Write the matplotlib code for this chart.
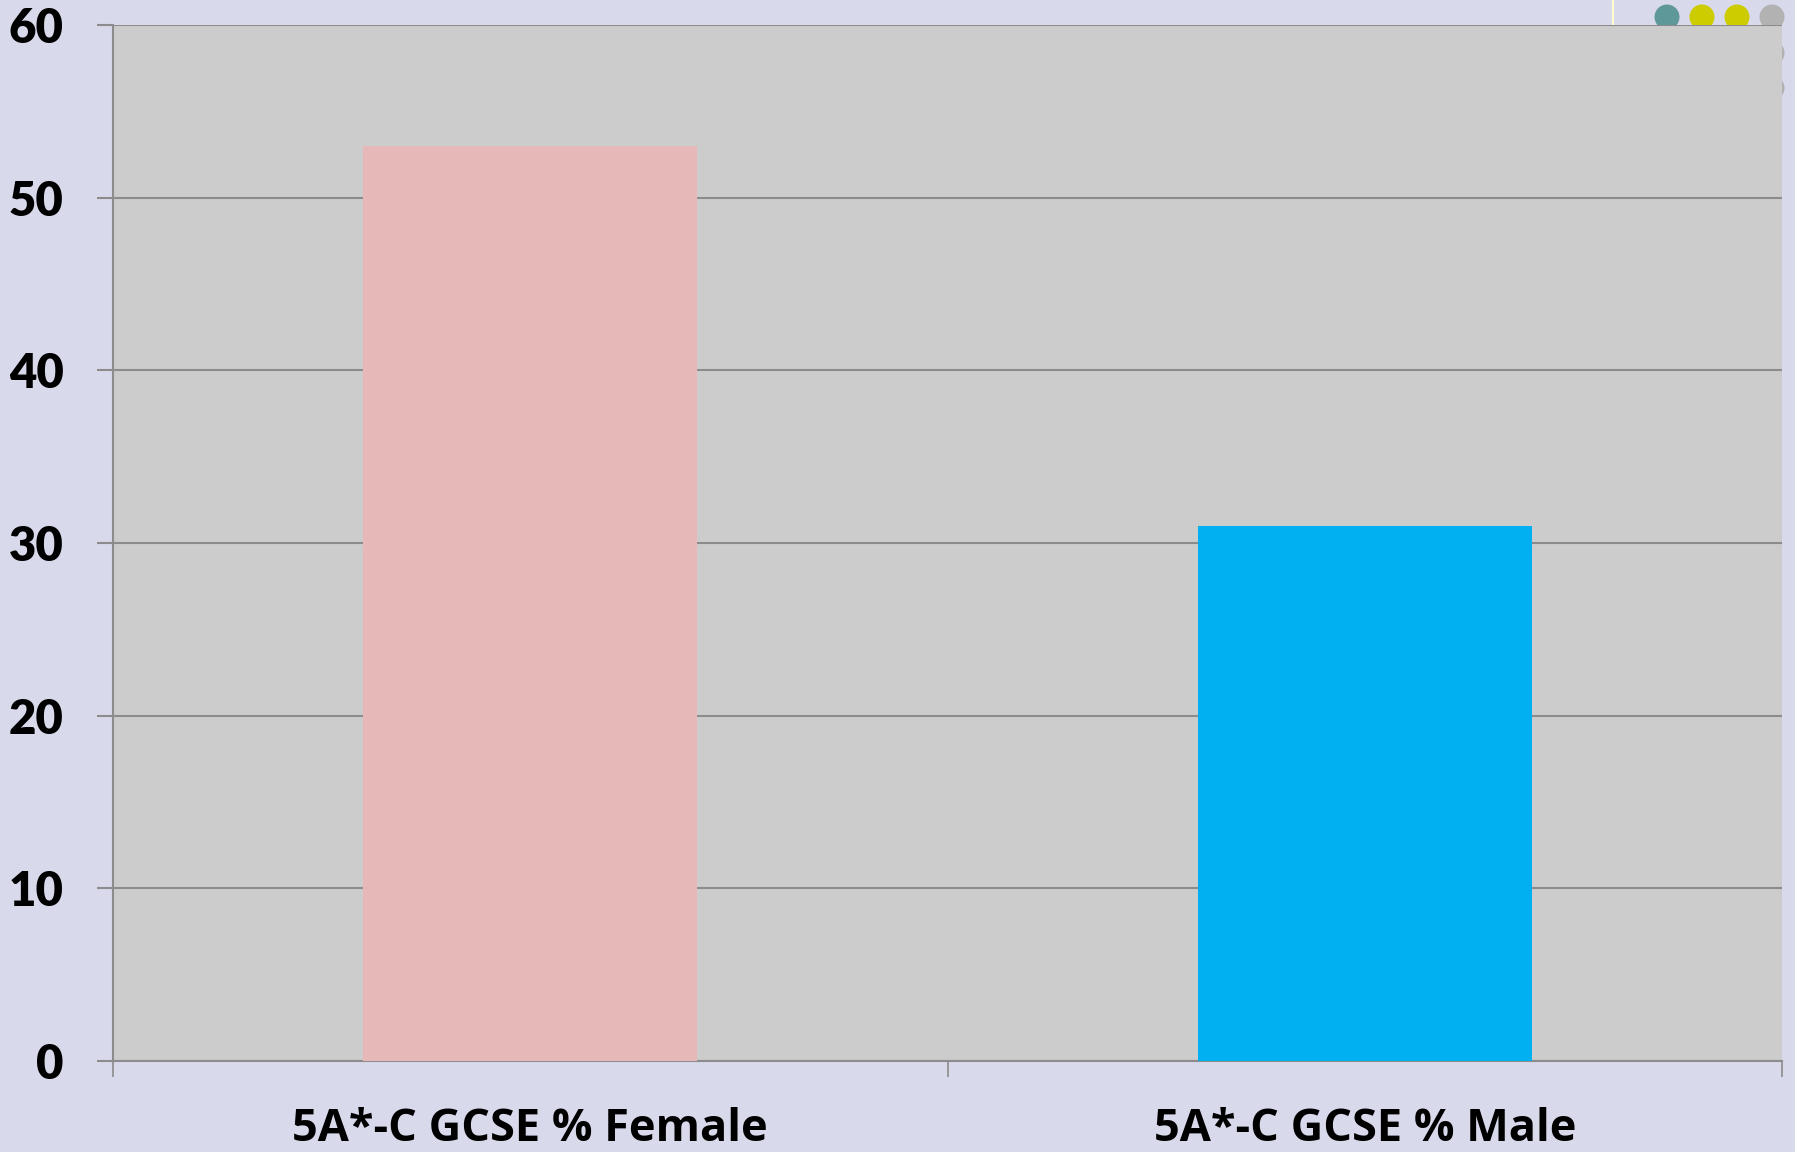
import matplotlib
matplotlib.use("Agg")
import matplotlib.pyplot as plt
from matplotlib.patches import Ellipse
from matplotlib.lines import Line2D

categories = ["5A*-C GCSE % Female", "5A*-C GCSE % Male"]
values = [53, 31]
bar_colors = ["#E6B8B7", "#00B0F0"]
y_ticks = [0, 10, 20, 30, 40, 50, 60]

W, H = 1795, 1152
fig = plt.figure(figsize=(W / 100, H / 100), dpi=100)
fig.patch.set_facecolor("#D9D9EC")

# decorative dots in the top-right corner (figure coordinates)
dots = [(1667, 17, "#5F9898"), (1702, 17, "#CCCC00"), (1737, 17, "#CCCC00"),
        (1772, 17, "#B2B2B2"), (1772, 53, "#B2B2B2"), (1772, 88, "#B2B2B2")]
for x, y, c in dots:
    fig.patches.append(Ellipse((x / W, 1 - y / H), 25 / W, 25 / H, transform=fig.transFigure,
                               facecolor=c, edgecolor="none", zorder=0))
fig.lines.append(Line2D([1613 / W, 1613 / W], [1 - 25 / H, 1], transform=fig.transFigure,
                        color="#FFFFCC", lw=1.5, zorder=0))

ax = fig.add_axes([113 / W, (H - 1061) / H, 1669 / W, 1036 / H])
ax.set_facecolor("#CCCCCC")
ax.set_zorder(1)

x = list(range(len(categories)))
ax.bar(x, values, width=0.4, color=bar_colors, zorder=3)
ax.set_xlim(-0.5, len(categories) - 0.5)
ax.set_ylim(0, 60)
ax.set_yticks(y_ticks)
ax.yaxis.grid(True, color="#8C8C8C", lw=1.5, zorder=1)
ax.set_axisbelow(True)

ax.set_xticks(x)
ax.set_xticklabels(categories)
ax.set_xticks([i - 0.5 for i in range(len(categories) + 1)], minor=True)
ax.tick_params(axis="x", which="major", length=0, pad=33)
ax.tick_params(axis="x", which="minor", length=11.5, width=1.2, color="#8C8C8C", direction="out")
ax.tick_params(axis="y", length=11.5, width=1.5, color="#8C8C8C", direction="out", pad=24)

for lab in ax.get_xticklabels():
    lab.set_fontfamily("Open Sans")
    lab.set_fontweight("bold")
    lab.set_fontsize(32.5)
for lab in ax.get_yticklabels():
    lab.set_fontfamily("Lato")
    lab.set_fontweight("heavy")
    lab.set_fontsize(34)

for s in ["top", "right"]:
    ax.spines[s].set_visible(False)
for s in ["left", "bottom"]:
    ax.spines[s].set_color("#8C8C8C")
    ax.spines[s].set_linewidth(1.5)

fig.savefig("out.png", dpi=100, facecolor=fig.get_facecolor())
